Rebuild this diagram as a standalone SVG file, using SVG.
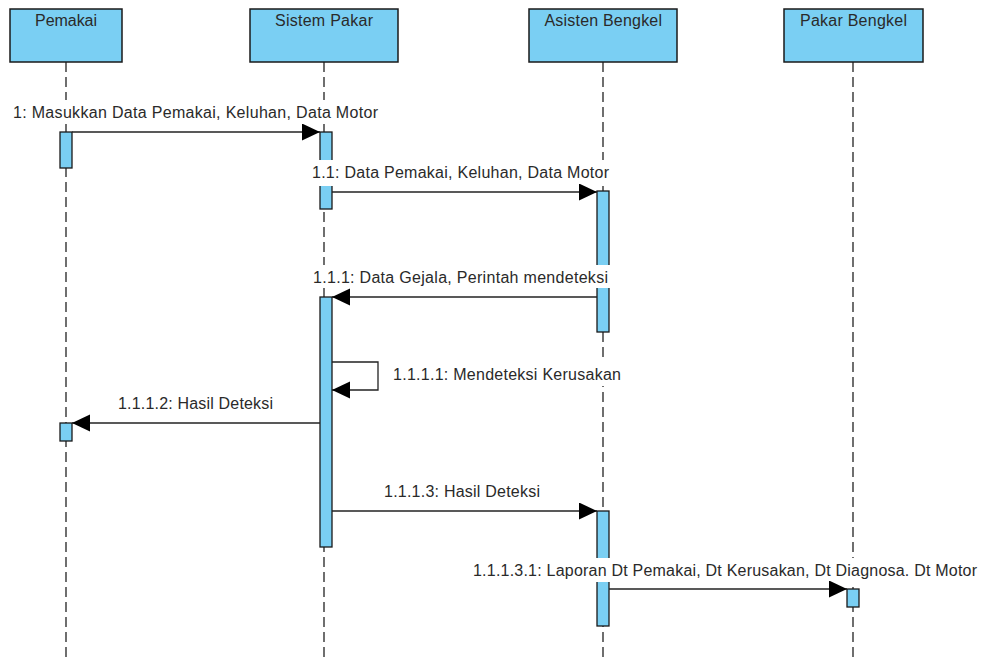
<svg xmlns="http://www.w3.org/2000/svg" width="987" height="657" viewBox="0 0 987 657">
  <style>
    .head { fill: #7acff3; stroke: #1a1a1a; stroke-width: 1.5; }
    .act { fill: #7acff3; stroke: #1a1a1a; stroke-width: 1.3; }
    .life { stroke: #222; stroke-width: 1.3; stroke-dasharray: 10 5; fill: none; }
    .msg { stroke: #222; stroke-width: 1.3; fill: none; }
    .bg { fill: #fff; stroke: none; }
    text { font-family: "Liberation Sans", Arial, sans-serif; font-size: 16px; fill: #2a2a2a; }
  </style>
  <defs>
    <marker id="arrow" markerUnits="userSpaceOnUse" markerWidth="20" markerHeight="20" refX="18" refY="8.5" orient="auto">
      <path d="M0,0 L18,8.5 L0,17 Z" fill="#000"/>
    </marker>
  </defs>
  <rect width="987" height="657" fill="#fff"/>

  <!-- lifelines -->
  <g id="lifelines">
    <line class="life" x1="66" y1="62" x2="66" y2="657"/>
    <line class="life" x1="324" y1="62" x2="324" y2="657"/>
    <line class="life" x1="603" y1="62" x2="603" y2="657"/>
    <line class="life" x1="853" y1="62" x2="853" y2="657"/>
  </g>

  <!-- participants -->
  <g id="pemakai">
    <rect class="head" x="10" y="9" width="112" height="53"/>
    <text x="35" y="26" textLength="62" lengthAdjust="spacing">Pemakai</text>
    <rect class="act" x="60" y="132" width="12" height="36"/>
    <rect class="act" x="60" y="423" width="12" height="18"/>
  </g>
  <g id="sistem-pakar">
    <rect class="head" x="250" y="9" width="148" height="53"/>
    <text x="275" y="26" textLength="98" lengthAdjust="spacing">Sistem Pakar</text>
    <rect class="act" x="320" y="132" width="12" height="77"/>
    <rect class="act" x="320" y="297" width="12" height="250"/>
  </g>
  <g id="asisten-bengkel">
    <rect class="head" x="529" y="9" width="148" height="53"/>
    <text x="544.5" y="26" textLength="117.5" lengthAdjust="spacing">Asisten Bengkel</text>
    <rect class="act" x="597" y="191" width="12" height="141"/>
    <rect class="act" x="597" y="511" width="12" height="115"/>
  </g>
  <g id="pakar-bengkel">
    <rect class="head" x="784" y="9" width="139" height="53"/>
    <text x="800" y="26" textLength="107" lengthAdjust="spacing">Pakar Bengkel</text>
    <rect class="act" x="847" y="589" width="12" height="18"/>
  </g>

  <!-- message labels, each on a white backing -->
  <g id="labels">
    <rect class="bg" x="10" y="100" width="371" height="24"/>
    <text x="13" y="118" textLength="365" lengthAdjust="spacing">1: Masukkan Data Pemakai, Keluhan, Data Motor</text>
    <rect class="bg" x="309" y="160" width="303" height="26"/>
    <text x="312" y="178" textLength="297" lengthAdjust="spacing">1.1: Data Pemakai, Keluhan, Data Motor</text>
    <rect class="bg" x="310" y="265" width="301" height="23"/>
    <text x="313" y="283" textLength="295" lengthAdjust="spacing">1.1.1: Data Gejala, Perintah mendeteksi</text>
    <rect class="bg" x="390" y="362" width="234" height="24"/>
    <text x="393" y="380" textLength="228" lengthAdjust="spacing">1.1.1.1: Mendeteksi Kerusakan</text>
    <rect class="bg" x="115" y="391" width="161" height="24"/>
    <text x="118" y="409" textLength="155" lengthAdjust="spacing">1.1.1.2: Hasil Deteksi</text>
    <rect class="bg" x="381" y="479" width="162" height="24"/>
    <text x="384" y="497" textLength="156" lengthAdjust="spacing">1.1.1.3: Hasil Deteksi</text>
    <rect class="bg" x="470" y="558" width="510" height="24"/>
    <text x="473" y="576" textLength="504" lengthAdjust="spacing">1.1.1.3.1: Laporan Dt Pemakai, Dt Kerusakan, Dt Diagnosa. Dt Motor</text>
  </g>

  <!-- messages -->
  <g id="connectors">
    <line class="msg" x1="72" y1="132" x2="320" y2="132" marker-end="url(#arrow)"/>
    <line class="msg" x1="332" y1="192" x2="597" y2="192" marker-end="url(#arrow)"/>
    <line class="msg" x1="597" y1="297" x2="332" y2="297" marker-end="url(#arrow)"/>
    <path class="msg" d="M332,362 H378 V390 H332" marker-end="url(#arrow)"/>
    <line class="msg" x1="320" y1="423" x2="72" y2="423" marker-end="url(#arrow)"/>
    <line class="msg" x1="332" y1="511" x2="597" y2="511" marker-end="url(#arrow)"/>
    <line class="msg" x1="609" y1="589" x2="847" y2="589" marker-end="url(#arrow)"/>
  </g>
</svg>
